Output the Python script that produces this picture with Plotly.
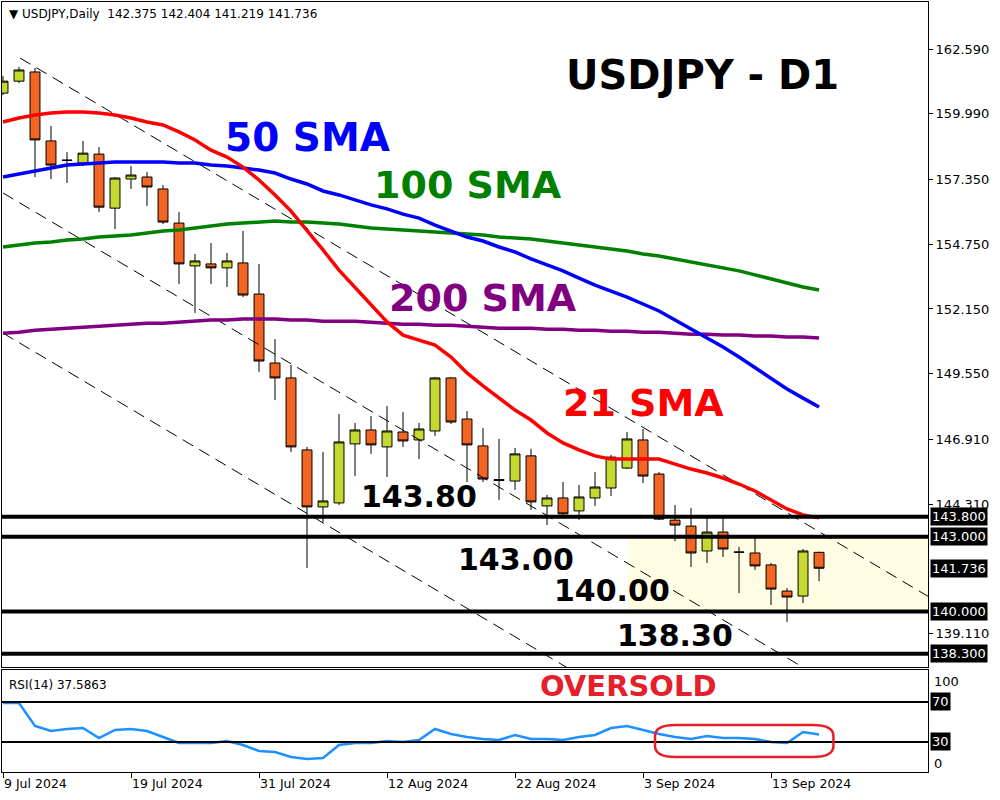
import plotly.graph_objects as go
import pandas as pd

# ---------------- data ----------------
dates = pd.bdate_range("2024-07-09", periods=52)

open_ = [160.82, 161.30, 161.67, 158.90, 158.13, 158.01, 158.37, 156.20, 157.37, 157.45,
         156.97, 155.60, 153.88, 153.96, 153.80, 154.00, 152.75, 149.98, 149.38, 146.49,
         144.20, 144.36, 146.73, 147.29, 146.61, 147.21, 146.89, 147.25, 149.38, 147.73,
         146.65, 145.30, 145.24, 146.25, 144.24, 144.56, 144.04, 144.56, 144.96, 145.76,
         146.89, 145.52, 143.67, 143.43, 142.43, 143.19, 142.39, 142.35, 141.87, 140.82,
         140.62, 142.375]
high = [161.51, 161.87, 161.83, 159.50, 158.45, 158.90, 158.65, 157.45, 157.89, 157.65,
        157.13, 156.04, 154.36, 154.80, 154.40, 155.28, 153.96, 150.94, 149.90, 146.61,
        146.41, 147.93, 147.57, 147.85, 148.25, 148.01, 147.57, 149.42, 149.42, 148.05,
        147.37, 146.93, 146.57, 146.53, 144.68, 145.20, 145.08, 145.60, 146.29, 147.21,
        147.33, 145.60, 144.28, 144.16, 143.79, 143.79, 142.59, 142.95, 141.95, 140.94,
        142.51, 142.404]
low = [160.74, 161.22, 157.45, 157.37, 157.21, 157.89, 156.04, 155.36, 156.97, 156.29,
       155.56, 153.15, 151.99, 153.15, 153.03, 152.63, 149.62, 148.49, 146.41, 141.75,
       143.59, 144.28, 145.44, 146.33, 145.40, 146.61, 146.12, 147.05, 147.53, 145.20,
       145.20, 144.48, 144.88, 144.08, 143.47, 143.84, 143.68, 144.24, 144.64, 145.72,
       145.16, 143.67, 142.83, 141.79, 141.95, 142.19, 140.74, 141.67, 140.26, 139.58,
       140.34, 141.219]
close = [161.30, 161.75, 158.94, 157.93, 158.12, 158.41, 156.24, 157.41, 157.53, 157.05,
         155.64, 153.96, 154.08, 153.80, 154.08, 152.71, 150.06, 149.38, 146.61, 144.20,
         144.44, 146.81, 147.29, 146.69, 147.25, 146.85, 147.33, 149.38, 147.61, 146.69,
         145.32, 145.26, 146.33, 144.40, 144.56, 143.92, 144.60, 145.00, 146.20, 146.93,
         145.44, 143.71, 143.47, 142.35, 143.19, 142.51, 142.38, 141.83, 140.90, 140.58,
         142.43, 141.736]

sma21 = [159.66, 159.82, 159.94, 160.02, 160.06, 160.06, 160.02, 159.94, 159.82, 159.66,
         159.54, 159.26, 158.94, 158.53, 158.25, 157.85, 157.33, 156.73, 156.08, 155.32,
         154.52, 153.71, 153.03, 152.31, 151.63, 151.10, 150.90, 150.70, 150.22, 149.58,
         149.06, 148.57, 148.09, 147.69, 147.17, 146.77, 146.49, 146.25, 146.12, 146.12,
         146.12, 146.12, 145.92, 145.72, 145.56, 145.36, 145.12, 144.84, 144.48, 144.12,
         143.88, 143.76]
sma50 = [157.45, 157.57, 157.69, 157.81, 157.93, 157.97, 158.01, 158.05, 158.05, 158.05,
         158.05, 158.01, 158.01, 157.93, 157.89, 157.81, 157.73, 157.61, 157.37, 157.17,
         156.89, 156.73, 156.53, 156.33, 156.17, 155.96, 155.80, 155.52, 155.28, 155.04,
         154.88, 154.64, 154.44, 154.16, 153.92, 153.68, 153.39, 153.11, 152.87, 152.63,
         152.35, 152.07, 151.71, 151.35, 150.98, 150.62, 150.22, 149.78, 149.34, 148.94,
         148.57, 148.21]
sma100 = [154.64, 154.72, 154.80, 154.84, 154.92, 154.96, 155.04, 155.08, 155.12, 155.20,
          155.28, 155.32, 155.40, 155.48, 155.56, 155.60, 155.64, 155.68, 155.64, 155.64,
          155.60, 155.56, 155.48, 155.40, 155.36, 155.32, 155.28, 155.24, 155.20, 155.16,
          155.12, 155.04, 155.00, 154.96, 154.88, 154.80, 154.72, 154.64, 154.56, 154.48,
          154.36, 154.28, 154.16, 154.04, 153.92, 153.80, 153.68, 153.52, 153.36, 153.19,
          153.03, 152.91]
sma200 = [151.18, 151.22, 151.30, 151.34, 151.38, 151.42, 151.46, 151.50, 151.54, 151.58,
          151.58, 151.62, 151.66, 151.71, 151.71, 151.75, 151.75, 151.75, 151.71, 151.71,
          151.66, 151.66, 151.66, 151.62, 151.58, 151.54, 151.54, 151.50, 151.50, 151.46,
          151.42, 151.38, 151.38, 151.38, 151.34, 151.34, 151.30, 151.30, 151.26, 151.26,
          151.22, 151.22, 151.18, 151.14, 151.14, 151.10, 151.10, 151.06, 151.06, 151.02,
          151.02, 150.98]
rsi = [69, 69, 46, 41, 43, 44, 34, 42, 43, 41,
       35, 29, 29, 29, 31, 27, 21, 20, 15, 13,
       14, 27, 29, 29, 31, 30, 32, 43, 38, 35,
       33, 32, 37, 33, 33, 32, 35, 37, 44, 46,
       42, 38, 35, 33, 36, 34, 34, 33, 30, 29,
       40, 37.5863]

levels = [143.80, 143.00, 140.00, 138.30]
level_texts = ["143.80", "143.00", "140.00", "138.30"]
last_price = 141.736
price_ticks = [162.59, 159.99, 157.35, 154.75, 152.15, 149.55, 146.91, 144.31, 139.11]
rsi_levels = [70, 30]
date_ticks = ["9 Jul 2024", "19 Jul 2024", "31 Jul 2024", "12 Aug 2024",
              "22 Aug 2024", "3 Sep 2024", "13 Sep 2024"]

# channel lines (bar index, price) pairs
chan_a = ([1.06, 57.81], [162.23, 140.61])
chan_b = ([0.0, 57.81], [156.81, 134.78])
chan_c = ([0.0, 57.81], [151.18, 129.15])

# support zone
zone_start, zone_top, zone_bottom = 39.06, 143.00, 140.00

x = list(range(len(dates)))
x_range = [-0.0625, 57.81]
y_range = [137.77, 164.48]
rsi_range = [0, 102]

BULL = "#C6D930"
BEAR = "#F26522"
FONT = "DejaVu Sans"

fig = go.Figure()

# zone rect
fig.add_shape(type="rect", xref="x", yref="y", x0=zone_start, x1=x_range[1],
              y0=zone_bottom, y1=zone_top, fillcolor="#FFFDE3", line_width=0, layer="below")

for cx, cy in (chan_a, chan_b, chan_c):
    fig.add_trace(go.Scatter(x=cx, y=cy, mode="lines", xaxis="x", yaxis="y",
                             line=dict(color="black", width=1, dash="12px,7px"),
                             hoverinfo="skip", showlegend=False))

fig.add_trace(go.Scatter(x=x, y=sma200, mode="lines", line=dict(color="#800080", width=3.5),
                         showlegend=False))
fig.add_trace(go.Scatter(x=x, y=sma100, mode="lines", line=dict(color="#008000", width=3.5),
                         showlegend=False))
fig.add_trace(go.Scatter(x=x, y=sma50, mode="lines", line=dict(color="#0000FF", width=3.5),
                         showlegend=False))
fig.add_trace(go.Scatter(x=x, y=sma21, mode="lines", line=dict(color="#FF0000", width=3.5),
                         showlegend=False))

fig.add_trace(go.Candlestick(
    x=x, open=open_, high=high, low=low, close=close, xaxis="x", yaxis="y",
    increasing=dict(fillcolor=BULL, line=dict(color="black", width=1)),
    decreasing=dict(fillcolor=BEAR, line=dict(color="black", width=1)),
    whiskerwidth=0, showlegend=False))

fig.add_trace(go.Scatter(x=x, y=rsi, mode="lines", xaxis="x2", yaxis="y2",
                         line=dict(color="#1E90FF", width=2.5), showlegend=False))

# horizontal levels
for lv in levels:
    fig.add_shape(type="line", xref="paper", yref="y", x0=0, x1=1, y0=lv, y1=lv,
                  line=dict(color="black", width=4), layer="above")
for lv in rsi_levels:
    fig.add_shape(type="line", xref="paper", yref="y2", x0=0, x1=1, y0=lv, y1=lv,
                  line=dict(color="black", width=2), layer="above")

# oversold marker (rounded rect)
ex0, ex1, ey0, ey1, rx, ry = 40.75, 51.9, 15, 47, 1.3, 11
path = (f"M {ex0+rx},{ey1} L {ex1-rx},{ey1} Q {ex1},{ey1} {ex1},{ey1-ry} "
        f"L {ex1},{ey0+ry} Q {ex1},{ey0} {ex1-rx},{ey0} L {ex0+rx},{ey0} "
        f"Q {ex0},{ey0} {ex0},{ey0+ry} L {ex0},{ey1-ry} Q {ex0},{ey1} {ex0+rx},{ey1} Z")
fig.add_shape(type="path", xref="x2", yref="y2", path=path,
              line=dict(color="#E5202A", width=2.5), layer="above")

ann = []
def txt(text, xv, yv, size, color, xref="x", yref="y", bold=True, **kw):
    ann.append(dict(text=text, x=xv, y=yv, xref=xref, yref=yref, showarrow=False,
                    font=dict(family=FONT, size=size, color=color,
                              weight="bold" if bold else "normal"), **kw))

txt("USDJPY - D1", 43.7, 161.55, 40, "black")
txt("50 SMA", 19.0, 159.02, 39, "#0000FF")
txt("100 SMA", 29.06, 157.13, 38, "#008000")
txt("200 SMA", 30.0, 152.59, 38, "#800080")
txt("21 SMA", 40.0, 148.37, 38, "#FF0000")
txt(level_texts[0], 26.0, 144.60, 30, "black")
txt(level_texts[1], 32.06, 142.07, 30, "black")
txt(level_texts[2], 38.06, 140.86, 30, "black")
txt(level_texts[3], 42.0, 139.02, 30, "black")
txt("OVERSOLD", 39.1, 86, 29, "#E5202A", xref="x2", yref="y2")

# header / indicator captions
txt("▼ USDJPY,Daily  142.375 142.404 141.219 141.736", 0, 1, 12, "black",
    xref="paper", yref="paper", bold=False, xanchor="left", yanchor="top", xshift=5, yshift=-3)
txt("RSI(14) 37.5863", 0, rsi_range[1], 12, "black", xref="paper", yref="y2", bold=False,
    xanchor="left", yanchor="top", xshift=5, yshift=-6)

# right-side price boxes
for v in levels[:2] + [last_price] + levels[2:]:
    ann.append(dict(text=f"{v:.3f}", x=1, y=v, xref="paper", yref="y", xanchor="left",
                    yanchor="middle", xshift=2, showarrow=False, bgcolor="black",
                    borderpad=1, font=dict(family=FONT, size=13, color="white")))
for v in rsi_levels:
    ann.append(dict(text=f"{v}", x=1, y=v, xref="paper", yref="y2", xanchor="left",
                    yanchor="middle", xshift=2, showarrow=False, bgcolor="black",
                    borderpad=1, font=dict(family=FONT, size=13, color="white")))
for v, pos in (("100", 90), ("0", 8)):
    ann.append(dict(text=v, x=1, y=pos, xref="paper", yref="y2", xanchor="left",
                    yanchor="middle", xshift=4, showarrow=False,
                    font=dict(family=FONT, size=13, color="black")))

tick_idx = [list(dates).index(pd.Timestamp(d)) for d in date_ticks]

fig.update_layout(
    width=1000, height=800,
    margin=dict(l=2, r=72, t=2, b=28),
    paper_bgcolor="white", plot_bgcolor="white",
    boxgap=0.38, boxgroupgap=0,
    annotations=ann,
    xaxis=dict(domain=[0, 1], range=x_range, anchor="y", showticklabels=False,
               showgrid=False, zeroline=False, showline=True, mirror=True,
               linecolor="black", linewidth=1, ticks="", rangeslider=dict(visible=False)),
    yaxis=dict(domain=[0.13636, 1], range=y_range, side="right", anchor="x",
               tickvals=price_ticks, ticktext=[f"{v:.3f}" for v in price_ticks],
               ticks="outside", ticklen=4, tickcolor="black",
               tickfont=dict(family=FONT, size=13, color="black"),
               showgrid=False, zeroline=False, showline=True, mirror=True,
               linecolor="black", linewidth=1),
    xaxis2=dict(domain=[0, 1], range=x_range, anchor="y2", matches="x",
                tickvals=tick_idx, ticktext=date_ticks, ticks="outside", ticklen=5,
                tickcolor="black", ticklabelposition="outside right",
                tickfont=dict(family=FONT, size=12.5, color="black"),
                showgrid=False, zeroline=False, showline=True, mirror=True,
                linecolor="black", linewidth=1),
    yaxis2=dict(domain=[0, 0.13247], range=rsi_range, side="right", anchor="x2",
                showticklabels=False, ticks="", showgrid=False, zeroline=False,
                showline=True, mirror=True, linecolor="black", linewidth=1),
)

fig.write_html("out.html", config={"displayModeBar": False},
               post_script="document.body.style.margin='0';")
